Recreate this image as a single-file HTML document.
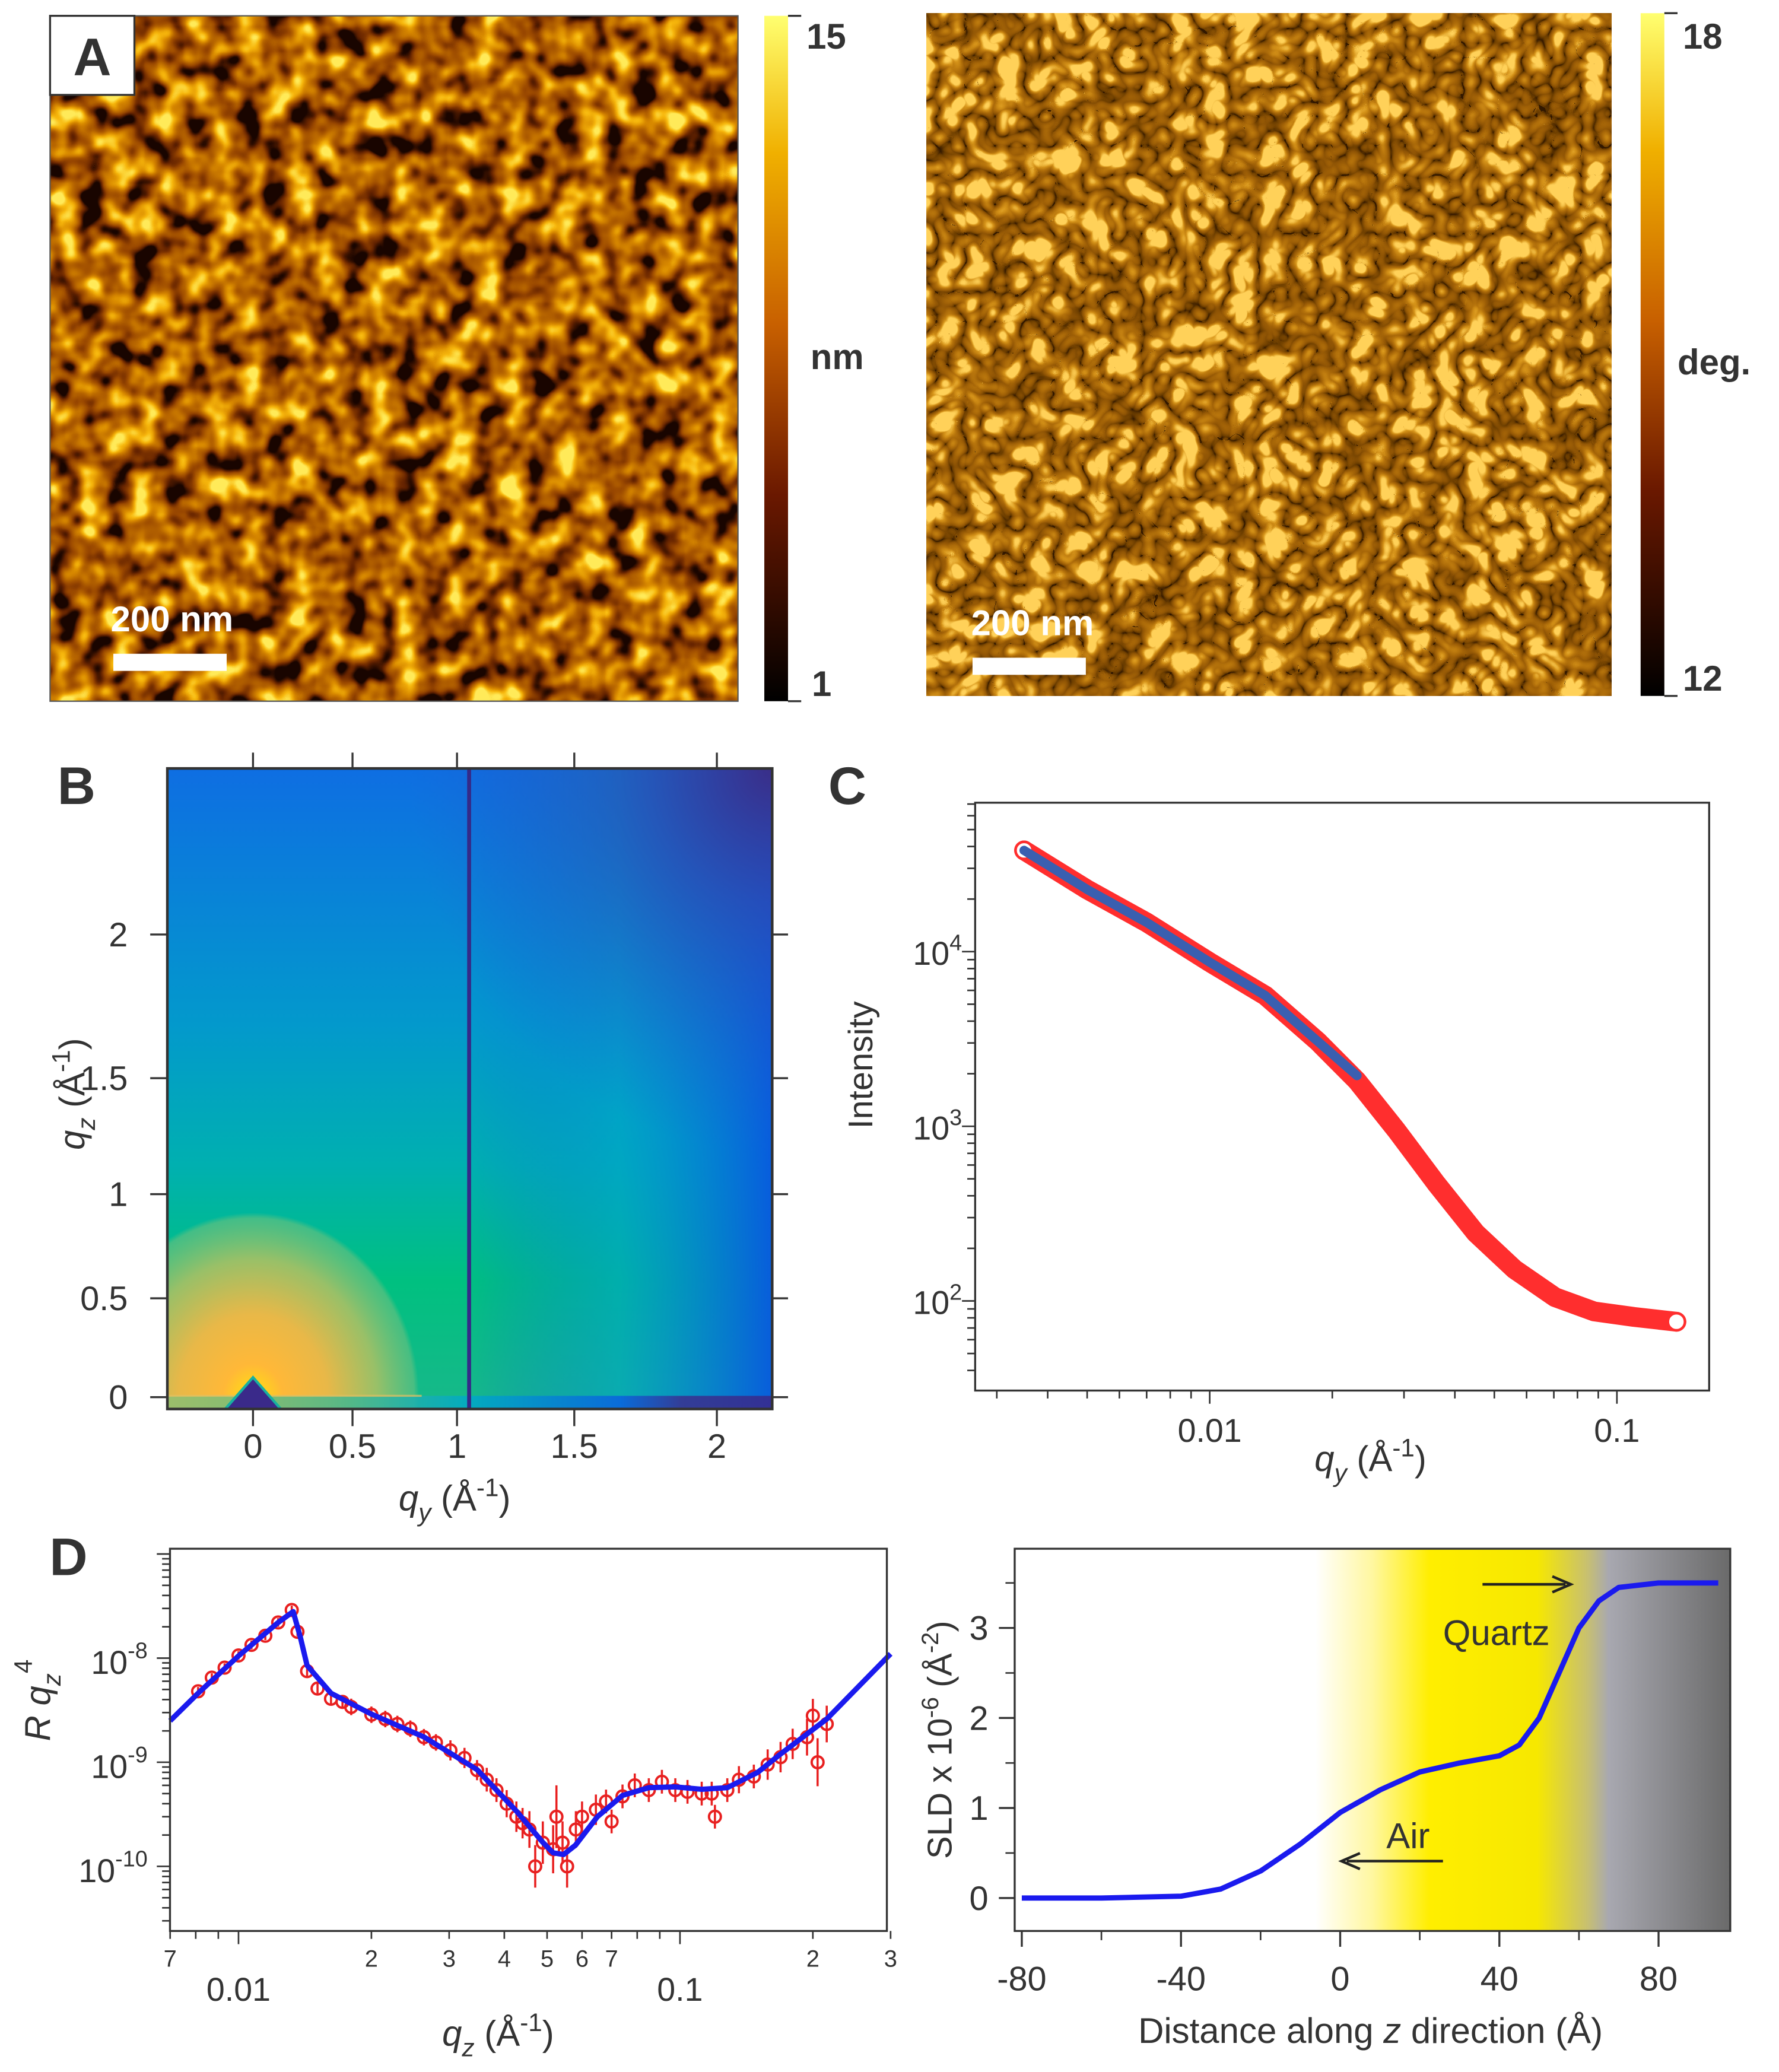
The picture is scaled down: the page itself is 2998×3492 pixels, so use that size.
<!DOCTYPE html>
<html><head><meta charset="utf-8"><title>Figure</title>
<style>
html,body{margin:0;padding:0;background:#fff;}
svg{display:block;font-family:"Liberation Sans",Arial,sans-serif;}
</style></head>
<body>
<svg id="fig" width="2998" height="3492" viewBox="0 0 1350 1572" preserveAspectRatio="none" xmlns="http://www.w3.org/2000/svg">
<defs>
  <filter id="afm1" filterUnits="userSpaceOnUse" x="38" y="12" width="522" height="520" color-interpolation-filters="sRGB">
    <feTurbulence type="fractalNoise" baseFrequency="0.05" numOctaves="2" seed="4"/>
    <feColorMatrix type="matrix" values="2.2 0 0 0 -0.65  2.2 0 0 0 -0.65  2.2 0 0 0 -0.65  0 0 0 0 1"/>
    <feComponentTransfer>
      <feFuncR type="table" tableValues="0.1 0.4 0.6 0.72 0.85 0.97 1"/>
      <feFuncG type="table" tableValues="0.02 0.14 0.28 0.4 0.54 0.72 0.92"/>
      <feFuncB type="table" tableValues="0 0 0 0 0 0.05 0.35"/>
    </feComponentTransfer>
  </filter>
  <filter id="afm2" filterUnits="userSpaceOnUse" x="703" y="10" width="520" height="518" color-interpolation-filters="sRGB">
    <feTurbulence type="turbulence" baseFrequency="0.045" numOctaves="2" seed="9"/>
    <feColorMatrix type="matrix" values="2.2 0 0 0 0.05  2.2 0 0 0 0.05  2.2 0 0 0 0.05  0 0 0 0 1"/>
    <feComponentTransfer>
      <feFuncR type="table" tableValues="0.1 0.42 0.56 0.64 0.72 0.84 1"/>
      <feFuncG type="table" tableValues="0.03 0.24 0.33 0.39 0.46 0.58 0.82"/>
      <feFuncB type="table" tableValues="0 0 0.02 0.03 0.05 0.1 0.35"/>
    </feComponentTransfer>
  </filter>
  <linearGradient id="hot" x1="0" y1="1" x2="0" y2="0">
    <stop offset="0" stop-color="#000"/><stop offset="0.3" stop-color="#6a1800"/>
    <stop offset="0.55" stop-color="#c86000"/><stop offset="0.8" stop-color="#f0b000"/>
    <stop offset="1" stop-color="#ffff70"/>
  </linearGradient>
  <linearGradient id="bBase" x1="0" y1="0" x2="0" y2="1">
    <stop offset="0" stop-color="#0e6ee2"/><stop offset="0.4" stop-color="#0399cc"/>
    <stop offset="0.62" stop-color="#00b0b0"/><stop offset="0.8" stop-color="#00c080"/>
    <stop offset="1" stop-color="#18b88a"/>
  </linearGradient>
  <linearGradient id="bRight" x1="0" y1="0" x2="1" y2="0">
    <stop offset="0" stop-color="#0a5fe0" stop-opacity="0"/>
    <stop offset="0.5" stop-color="#00a0d0" stop-opacity="0.55"/>
    <stop offset="1" stop-color="#0858e0" stop-opacity="0.95"/>
  </linearGradient>
  <radialGradient id="bCorner" cx="1" cy="0" r="0.6">
    <stop offset="0" stop-color="#3a2e88"/><stop offset="0.35" stop-color="#2e48b0" stop-opacity="0.75"/>
    <stop offset="1" stop-color="#2060d0" stop-opacity="0"/>
  </radialGradient>
  <radialGradient id="bWarm" cx="0.5" cy="0.5" r="0.5">
    <stop offset="0" stop-color="#ffee00"/><stop offset="0.08" stop-color="#ffd020"/>
    <stop offset="0.18" stop-color="#ffb838"/><stop offset="0.45" stop-color="#e8b848"/>
    <stop offset="0.75" stop-color="#98c068"/><stop offset="0.97" stop-color="#60c080" stop-opacity="0.7"/>
    <stop offset="1" stop-color="#60c080" stop-opacity="0"/>
  </radialGradient>
  <linearGradient id="bStrip" x1="0" y1="0" x2="1" y2="0">
    <stop offset="0" stop-color="#90c070"/><stop offset="0.3" stop-color="#40b890"/>
    <stop offset="0.5" stop-color="#00a8c8"/><stop offset="0.75" stop-color="#0a60e0"/>
    <stop offset="0.85" stop-color="#3a2e90"/><stop offset="1" stop-color="#3a2888"/>
  </linearGradient>
  <clipPath id="bClip"><rect x="127" y="583" width="459" height="486"/></clipPath>
  <linearGradient id="slab" x1="0" y1="0" x2="1" y2="0">
    <stop offset="0" stop-color="#fff" stop-opacity="0"/>
    <stop offset="0.42" stop-color="#fff"/>
    <stop offset="0.5" stop-color="#fff7a0"/>
    <stop offset="0.58" stop-color="#ffee00"/>
    <stop offset="0.73" stop-color="#f6e800"/>
    <stop offset="0.8" stop-color="#c8c070"/>
    <stop offset="0.83" stop-color="#a8a8b0"/>
    <stop offset="1" stop-color="#6a6a6a"/>
  </linearGradient>
</defs>

<!-- Panel A -->
<g>
  <rect x="38" y="12" width="522" height="520" filter="url(#afm1)"/>
  <rect x="38" y="12" width="522" height="520" fill="none" stroke="#555" stroke-width="1"/>
  <rect x="38" y="12" width="64" height="60" fill="#fff" stroke="#333" stroke-width="1.5"/>
  <text x="70" y="57" font-size="40" font-weight="bold" text-anchor="middle" fill="#333">A</text>
  <text x="84" y="479" font-size="27" font-weight="bold" fill="#fff">200 nm</text>
  <rect x="86" y="496" width="86" height="13" fill="#fff"/>
  <rect x="580" y="12" width="18" height="520" fill="url(#hot)"/>
  <path d="M598 12h10M598 532h10" stroke="#333" stroke-width="1.5"/>
  <text x="612" y="37" font-size="27" font-weight="bold" fill="#333">15</text>
  <text x="616" y="528" font-size="27" font-weight="bold" fill="#333">1</text>
  <text x="615" y="280" font-size="27" font-weight="bold" fill="#333">nm</text>

  <rect x="703" y="10" width="520" height="518" filter="url(#afm2)"/>
  <text x="737" y="482" font-size="27" font-weight="bold" fill="#fff">200 nm</text>
  <rect x="738" y="499" width="86" height="13" fill="#fff"/>
  <rect x="1245" y="10" width="18" height="518" fill="url(#hot)"/>
  <path d="M1263 10h10M1263 528h10" stroke="#333" stroke-width="1.5"/>
  <text x="1277" y="37" font-size="27" font-weight="bold" fill="#333">18</text>
  <text x="1277" y="524" font-size="27" font-weight="bold" fill="#333">12</text>
  <text x="1273" y="284" font-size="27" font-weight="bold" fill="#333">deg.</text>
</g>

<!-- Panel B -->
<g>
  <text x="58" y="610" font-size="40" font-weight="bold" text-anchor="middle" fill="#333">B</text>
  <g clip-path="url(#bClip)">
    <rect x="127" y="583" width="459" height="486" fill="url(#bBase)"/>
    <rect x="353" y="583" width="233" height="486" fill="url(#bRight)"/>
    <rect x="127" y="583" width="459" height="486" fill="url(#bCorner)"/>
    <ellipse cx="192" cy="1060" rx="126" ry="140" fill="url(#bWarm)"/>
    <rect x="127" y="1059" width="459" height="10" fill="url(#bStrip)" opacity="0.85"/>
    <line x1="127" y1="1059" x2="320" y2="1059" stroke="#e8c060" stroke-width="1.5" opacity="0.7"/>
    <path d="M192 1045 L170 1070 L214 1070 Z" fill="#3a2a8a" stroke="#18b0a0" stroke-width="2"/>
  </g>
  <line x1="356" y1="583" x2="356" y2="1069" stroke="#352a88" stroke-width="3"/>
  <rect x="127" y="583" width="459" height="486" fill="none" stroke="#333" stroke-width="2"/>
  <g id="bAxes"></g>
  <text x="345" y="1146" font-size="27" text-anchor="middle" fill="#333"><tspan font-style="italic">q</tspan><tspan font-size="19" dy="8" font-style="italic">y</tspan><tspan dy="-8"> (Å</tspan><tspan font-size="19" dy="-11">-1</tspan><tspan dy="11">)</tspan></text>
  <text transform="translate(64 830) rotate(-90)" font-size="27" text-anchor="middle" fill="#333"><tspan font-style="italic">q</tspan><tspan font-size="19" dy="8" font-style="italic">z</tspan><tspan dy="-8"> (Å</tspan><tspan font-size="19" dy="-11">-1</tspan><tspan dy="11">)</tspan></text>
</g>

<!-- Panel C -->
<g>
  <text x="643" y="610" font-size="40" font-weight="bold" text-anchor="middle" fill="#333">C</text>
  <g id="cPlot"></g>
  <rect x="740" y="609" width="557" height="446" fill="none" stroke="#333" stroke-width="1.5"/>
  <text transform="translate(662 808) rotate(-90)" font-size="26" text-anchor="middle" fill="#333">Intensity</text>
  <text x="1040" y="1116" font-size="27" text-anchor="middle" fill="#333"><tspan font-style="italic">q</tspan><tspan font-size="19" dy="8" font-style="italic">y</tspan><tspan dy="-8"> (Å</tspan><tspan font-size="19" dy="-11">-1</tspan><tspan dy="11">)</tspan></text>
</g>

<!-- Panel D left -->
<g>
  <text x="52" y="1195" font-size="40" font-weight="bold" text-anchor="middle" fill="#333">D</text>
  <g id="dPlot"></g>
  <rect x="129" y="1175" width="544" height="290" fill="none" stroke="#333" stroke-width="1.5"/>
  <text transform="translate(38 1290) rotate(-90)" font-size="27" text-anchor="middle" fill="#333"><tspan font-style="italic">R q</tspan><tspan font-size="19" dy="8" font-style="italic">z</tspan><tspan font-size="19" dy="-22">4</tspan></text>
  <text x="378" y="1552" font-size="27" text-anchor="middle" fill="#333"><tspan font-style="italic">q</tspan><tspan font-size="19" dy="8" font-style="italic">z</tspan><tspan dy="-8"> (Å</tspan><tspan font-size="19" dy="-11">-1</tspan><tspan dy="11">)</tspan></text>
</g>

<!-- Panel D right -->
<g>
  <rect x="770" y="1175" width="543" height="290" fill="url(#slab)"/>
  <g id="ePlot"></g>
  <rect x="770" y="1175" width="543" height="290" fill="none" stroke="#333" stroke-width="1.5"/>
  <text x="1095" y="1248" font-size="27" fill="#333">Quartz</text>
  <path d="M1125 1202 H1188 M1178 1196 L1192 1202 L1178 1208" stroke="#222" stroke-width="2" fill="none"/>
  <text x="1052" y="1402" font-size="27" fill="#333">Air</text>
  <path d="M1095 1412 H1022 M1032 1406 L1018 1412 L1032 1418" stroke="#222" stroke-width="2" fill="none"/>
  <text transform="translate(722 1320) rotate(-90)" font-size="26" text-anchor="middle" fill="#333">SLD x 10<tspan font-size="18" dy="-10">-6</tspan><tspan dy="10"> (Å</tspan><tspan font-size="18" dy="-10">-2</tspan><tspan dy="10">)</tspan></text>
  <text x="1040" y="1550" font-size="27" text-anchor="middle" fill="#333">Distance along <tspan font-style="italic">z</tspan> direction (Å)</text>
</g>

<script>
// ---------- Panel B axis ticks ----------
const bXTicks = [0, 0.5, 1, 1.5, 2];
const bXLabels = ["0", "0.5", "1", "1.5", "2"];
const bYTicks = [0, 0.5, 1, 1.5, 2];
const bYLabels = ["0", "0.5", "1", "1.5", "2"];

// ---------- Panel C data ----------
const cQ = [0.0035, 0.005, 0.007, 0.01, 0.0137, 0.0184, 0.023, 0.0288, 0.036, 0.045, 0.056, 0.0705, 0.088, 0.11, 0.14];
const cI = [38000, 22700, 14700, 8700, 5600, 3070, 1820, 942, 470, 245, 152, 105, 87, 81, 76];
const cFitQ = [0.0035, 0.005, 0.007, 0.01, 0.0137, 0.0184, 0.023];
const cFitI = [38000, 22700, 14700, 8700, 5600, 3070, 1950];
const cXTickVals = [0.01, 0.1];
const cXTickLabels = ["0.01", "0.1"];
const cYTickVals = [100, 1000, 10000];
const cYTickExps = ["2", "3", "4"];

// ---------- Panel D (reflectivity) data ----------
const dQ = [0.0081,0.0087,0.0093,0.01,0.0107,0.0115,0.0123,0.0132,0.0136,0.0143,0.0151,0.0162,0.018,0.02,0.0229,0.0263,0.0302,0.0347,0.0384,0.0426,0.0456,0.0489,0.0516,0.0542,0.0581,0.0645,0.0741,0.085,0.0976,0.112,0.128,0.147,0.169,0.194,0.215,0.047,0.0525,0.0555,0.07,0.12,0.205,0.0172,0.0215,0.0245,0.028,0.0325,0.0365,0.0405,0.044,0.06,0.068,0.079,0.091,0.104,0.118,0.136,0.158,0.18,0.2];
const dR = [4.8e-9,6.5e-9,8.1e-9,1.06e-8,1.34e-8,1.64e-8,2.2e-8,2.9e-8,1.79e-8,7.5e-9,5.1e-9,4.07e-9,3.4e-9,2.86e-9,2.33e-9,1.74e-9,1.3e-9,8.4e-10,5.4e-10,3.0e-10,2.26e-10,1.69e-10,1.46e-10,1.69e-10,2.26e-10,3.5e-10,4.7e-10,5.4e-10,5.4e-10,5.0e-10,5.4e-10,7.3e-10,1.12e-9,1.74e-9,2.33e-9,1.0e-10,3.0e-10,1.0e-10,2.7e-10,3.0e-10,1.0e-9,3.8e-9,2.6e-9,2.1e-9,1.55e-9,1.1e-9,6.8e-10,4.0e-10,2.6e-10,3.0e-10,4.2e-10,6.0e-10,6.5e-10,5.2e-10,5.0e-10,6.8e-10,9.5e-10,1.5e-9,2.8e-9];
const dErr = [1.1,1.1,1.1,1.1,1.1,1.1,1.1,1.1,1.1,1.15,1.15,1.15,1.2,1.2,1.2,1.2,1.25,1.25,1.3,1.4,1.5,1.6,1.7,1.6,1.5,1.4,1.3,1.3,1.3,1.3,1.3,1.3,1.4,1.5,1.5,1.6,2.0,1.6,1.3,1.3,1.7,1.15,1.2,1.2,1.2,1.25,1.3,1.35,1.4,1.4,1.3,1.3,1.3,1.3,1.3,1.35,1.4,1.4,1.45];
const dFitQ = [0.007,0.0081,0.01,0.0123,0.0133,0.0138,0.0143,0.0162,0.02,0.0263,0.0347,0.0426,0.0489,0.0516,0.0545,0.058,0.065,0.0741,0.085,0.0976,0.112,0.128,0.15,0.169,0.215,0.3];
const dFitR = [2.5e-9,4.6e-9,1.05e-8,2.2e-8,2.8e-8,1.6e-8,8.5e-9,4.6e-9,2.9e-9,1.75e-9,8.5e-10,3.4e-10,1.7e-10,1.35e-10,1.3e-10,1.6e-10,3.0e-10,4.8e-10,5.7e-10,5.8e-10,5.5e-10,5.7e-10,8.0e-10,1.2e-9,2.6e-9,1.1e-8];
const dYExps = ["-8", "-9", "-10"];
const dYTickVals = [1e-8, 1e-9, 1e-10];

// ---------- Panel D (SLD) data ----------
const eZ = [-80,-60,-40,-30,-20,-10,0,10,20,30,40,45,50,55,60,65,70,80,95];
const eSLD = [0,0,0.02,0.1,0.3,0.6,0.95,1.2,1.4,1.5,1.58,1.7,2.0,2.5,3.0,3.3,3.45,3.5,3.5];
const eXTicks = [-80,-40,0,40,80];
const eXMinor = [-60,-20,20,60];
const eYTicks = [0,1,2,3];

const NS = "http://www.w3.org/2000/svg";
function mk(parent, tag, attrs, text) {
  const el = document.createElementNS(NS, tag);
  for (const k in attrs) el.setAttribute(k, attrs[k]);
  if (text !== undefined) el.textContent = text;
  parent.appendChild(el);
  return el;
}
function powLabel(parent, x, y, exp, fs, sfs, dy) {
  const t = mk(parent, "text", {x: x, y: y, "font-size": fs, "text-anchor": "end", fill: "#333"});
  mk(t, "tspan", {}, "10");
  mk(t, "tspan", {"font-size": sfs, dy: -dy}, exp);
  return t;
}
const FC = "#333";

// Panel B axis functions (non-uniform detector axis; calibration from tick marks)
const bXCal = [[0,192],[0.5,267.5],[1,346.8],[1.5,435.8],[2,544]];
const bYCal = [[0,1060],[0.5,985],[1,906],[1.5,818],[2,709]];
function piece(cal, v) {
  let i = 0;
  while (i < cal.length - 2 && v > cal[i + 1][0]) i++;
  const a = cal[i], b = cal[i + 1];
  return a[1] + (v - a[0]) * (b[1] - a[1]) / (b[0] - a[0]);
}
const bx = v => piece(bXCal, v);
const by = v => piece(bYCal, v);
const bAx = document.getElementById("bAxes");
bXTicks.forEach((v, i) => {
  const t = mk(bAx, "line", {x1: bx(v), y1: 1069, x2: bx(v), y2: 1082, stroke: FC, "stroke-width": 1.5});
  
  
  mk(bAx, "line", {x1: bx(v), y1: 583, x2: bx(v), y2: 571, stroke: FC, "stroke-width": 1.5});
  const l = mk(bAx, "text", {x: bx(v), y: 1106, "font-size": 26, "text-anchor": "middle", fill: FC}, bXLabels[i]);
  
  
});
bYTicks.forEach((v, i) => {
  mk(bAx, "line", {x1: 127, y1: by(v), x2: 114, y2: by(v), stroke: FC, "stroke-width": 1.5});
  mk(bAx, "line", {x1: 586, y1: by(v), x2: 598, y2: by(v), stroke: FC, "stroke-width": 1.5});
  const l = mk(bAx, "text", {x: 97, y: by(v) + 9, "font-size": 26, "text-anchor": "end", fill: FC}, bYLabels[i]);
  
  
});

// Panel C scales
const cx = q => 918 + (Math.log10(q) + 2) * 309;
const cy = I => 722 - (Math.log10(I) - 4) * 132.5;
const cG = document.getElementById("cPlot");
for (let d = -3; d <= -1; d++) {
  for (let m = 1; m <= 9; m++) {
    const x = cx(m * Math.pow(10, d));
    if (x < 740 || x > 1297) continue;
    mk(cG, "line", {x1: x, y1: 1055, x2: x, y2: 1055 + (m === 1 ? 10 : 6), stroke: FC, "stroke-width": 1.2});
  }
}
for (let d = 1; d <= 4; d++) {
  for (let m = 1; m <= 9; m++) {
    const y = cy(m * Math.pow(10, d));
    if (y < 609 || y > 1055) continue;
    mk(cG, "line", {x1: 740, y1: y, x2: 740 - (m === 1 ? 10 : 6), y2: y, stroke: FC, "stroke-width": 1.2});
  }
}
cXTickVals.forEach((v, i) => {
  const l = mk(cG, "text", {x: cx(v), y: 1094, "font-size": 25, "text-anchor": "middle", fill: FC}, cXTickLabels[i]);
  
  
});
cYTickVals.forEach((v, i) => {
  const l = powLabel(cG, 730, cy(v) + 10, cYTickExps[i], 25, 17, 11);
  
  
});
const cPts = cQ.map((q, i) => cx(q) + "," + cy(cI[i])).join(" ");
const tube = mk(cG, "polyline", {points: cPts, fill: "none", stroke: "#ff2e2e", "stroke-width": 15, "stroke-linejoin": "round", "stroke-linecap": "round"});


const cLast = cQ.length - 1;
const endC = mk(cG, "circle", {cx: cx(cQ[cLast]), cy: cy(cI[cLast]), r: 6.5, fill: "#fff", stroke: "#ff2e2e", "stroke-width": 2});


const c0 = mk(cG, "circle", {cx: cx(cQ[0]), cy: cy(cI[0]), r: 6.5, fill: "#fff", stroke: "#ff2e2e", "stroke-width": 2});


const cFit = mk(cG, "polyline", {points: cFitQ.map((q, i) => cx(q) + "," + cy(cFitI[i])).join(" "), fill: "none", stroke: "#3a5fb0", "stroke-width": 7, "stroke-linecap": "round", "stroke-linejoin": "round"});



// Panel D reflectivity scales
const dx = q => 181 + (Math.log10(q) + 2) * 335;
const dy = R => 1258 - (Math.log10(R) + 8) * 79;
const dG = document.getElementById("dPlot");
const dMinorLabels = {"7e-3":"7","2e-2":"2","3e-2":"3","4e-2":"4","5e-2":"5","6e-2":"6","7e-2":"7","2e-1":"2","3e-1":"3"};
for (let d = -3; d <= -1; d++) {
  for (let m = 1; m <= 9; m++) {
    const q = m * Math.pow(10, d);
    const x = dx(q);
    if (x < 126 || x > 678) continue;
    mk(dG, "line", {x1: x, y1: 1465, x2: x, y2: 1465 + (m === 1 ? 10 : 6), stroke: FC, "stroke-width": 1.2});
    const key = m + "e" + d;
    if (dMinorLabels[key]) mk(dG, "text", {x: x, y: 1492, "font-size": 18, "text-anchor": "middle", fill: FC}, dMinorLabels[key]);
  }
}
mk(dG, "text", {x: dx(0.01), y: 1518, "font-size": 25, "text-anchor": "middle", fill: FC}, "0.01");
mk(dG, "text", {x: dx(0.1), y: 1518, "font-size": 25, "text-anchor": "middle", fill: FC}, "0.1");
for (let d = -11; d <= -7; d++) {
  for (let m = 1; m <= 9; m++) {
    const y = dy(m * Math.pow(10, d));
    if (y < 1175 || y > 1465) continue;
    mk(dG, "line", {x1: 129, y1: y, x2: 129 - (m === 1 ? 10 : 6), y2: y, stroke: FC, "stroke-width": 1.2});
  }
}
dYTickVals.forEach((v, i) => {
  const l = powLabel(dG, 112, dy(v) + 12, dYExps[i], 25, 17, 12);
  
  
});
dQ.forEach((q, i) => {
  const x = dx(q), y = dy(dR[i]);
  const e = mk(dG, "line", {x1: x, y1: dy(dR[i] * dErr[i]), x2: x, y2: dy(dR[i] / dErr[i]), stroke: "#e82020", "stroke-width": 1.6});
  
  
  const c = mk(dG, "circle", {cx: x, cy: y, r: 4.5, fill: "none", stroke: "#e82020", "stroke-width": 1.8});
  
  
});
const dFit = mk(dG, "polyline", {points: dFitQ.map((q, i) => dx(q) + "," + dy(dFitR[i])).join(" "), fill: "none", stroke: "#1a1aee", "stroke-width": 4, "stroke-linejoin": "round"});



// Panel D SLD scales
const ex = z => 1017 + z * 3.02;
const ey = s => 1440 - s * 68.3;
const eG = document.getElementById("ePlot");
eXTicks.forEach(v => {
  mk(eG, "line", {x1: ex(v), y1: 1465, x2: ex(v), y2: 1477, stroke: FC, "stroke-width": 1.5});
  const l = mk(eG, "text", {x: ex(v), y: 1510, "font-size": 26, "text-anchor": "middle", fill: FC}, String(v));
  
  
});
eXMinor.forEach(v => mk(eG, "line", {x1: ex(v), y1: 1465, x2: ex(v), y2: 1472, stroke: FC, "stroke-width": 1.2}));
eYTicks.forEach(v => {
  mk(eG, "line", {x1: 770, y1: ey(v), x2: 758, y2: ey(v), stroke: FC, "stroke-width": 1.5});
  mk(eG, "line", {x1: 770, y1: ey(v + 0.5), x2: 763, y2: ey(v + 0.5), stroke: FC, "stroke-width": 1.2});
  const l = mk(eG, "text", {x: 750, y: ey(v) + 9, "font-size": 26, "text-anchor": "end", fill: FC}, String(v));
  
  
});
const eLine = mk(eG, "polyline", {points: eZ.map((z, i) => ex(z) + "," + ey(eSLD[i])).join(" "), fill: "none", stroke: "#1a1aee", "stroke-width": 4, "stroke-linejoin": "round"});


</script>
</svg>
</body></html>
